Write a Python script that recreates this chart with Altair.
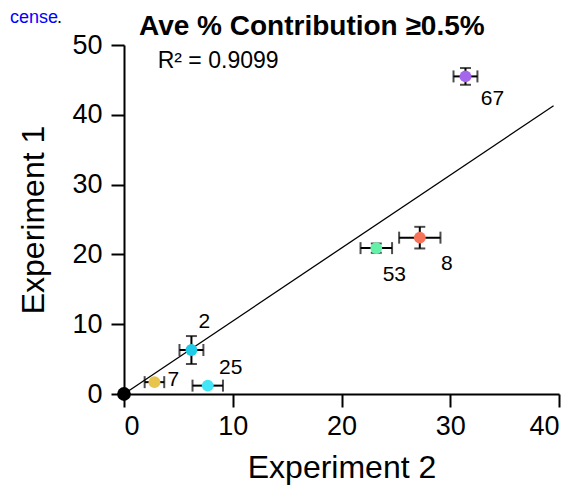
import altair as alt
import pandas as pd

# ---- data ----
ids = ["origin", "2", "7", "25", "53", "8", "67"]
exp2 = [0.0, 6.2, 2.8, 7.7, 23.2, 27.2, 31.4]        # x: Experiment 2
exp1 = [0.0, 6.3, 1.7, 1.2, 20.9, 22.4, 45.5]        # y: Experiment 1
exp2_err = [0.0, 1.1, 0.9, 1.4, 1.45, 1.9, 1.1]
exp1_err = [0.0, 2.0, 0.0, 0.0, 0.65, 1.55, 1.2]
point_labels = ["", "2", "7", "25", "53", "8", "67"]
fit_x = [0.0, 39.5]
fit_y = [0.0, 41.3]
r2_text = "R\u00b2 = 0.9099"
title_text = "Ave % Contribution \u22650.5%"
header_text = "cense"
x_ticks = [0, 10, 20, 30, 40]
y_ticks = [0, 10, 20, 30, 40, 50]

# ---- style ----
colors = ["#000000", "#1fcbe6", "#e8c44c", "#42e6f6", "#64f0a8", "#f6735a", "#a466ea"]
label_offsets = {"2": (13, -28), "7": (19, -2), "25": (23, -18),
                 "53": (18, 27), "8": (27, 26), "67": (27, 23)}
FONT = "Liberation Sans"

df = pd.DataFrame({"id": ids, "x": exp2, "y": exp1, "xe": exp2_err,
                   "ye": exp1_err, "label": point_labels})
df["kind"] = ["origin"] + ["gene"] * (len(ids) - 1)
df["x_lo"] = df["x"] - df["xe"]
df["x_hi"] = df["x"] + df["xe"]
df["y_lo"] = df["y"] - df["ye"]
df["y_hi"] = df["y"] + df["ye"]
fit = pd.DataFrame({"x": fit_x, "y": fit_y})

xs = alt.Scale(domain=[0, 40], nice=False)
ys = alt.Scale(domain=[0, 50], nice=False)
X = alt.X("x:Q", scale=xs, title="Experiment 2",
          axis=alt.Axis(values=x_ticks, titlePadding=13, labelPadding=6))
Y = alt.Y("y:Q", scale=ys, title="Experiment 1",
          axis=alt.Axis(values=y_ticks, titlePadding=21, labelPadding=9))

base = alt.Chart(df)

line = alt.Chart(fit).mark_line(color="black", strokeWidth=1.3).encode(x=X, y=Y)

hbar = base.transform_filter("datum.xe > 0").mark_rule(color="black", strokeWidth=2).encode(
    x=alt.X("x_lo:Q", scale=xs), x2="x_hi:Q", y=alt.Y("y:Q", scale=ys))
hcap = base.transform_filter("datum.xe > 0").transform_fold(
    ["x_lo", "x_hi"], as_=["end", "xv"]).mark_tick(
    orient="vertical", color="black", size=12, thickness=2).encode(
    x=alt.X("xv:Q", scale=xs), y=alt.Y("y:Q", scale=ys))
vbar = base.transform_filter("datum.ye > 0").mark_rule(color="black", strokeWidth=2).encode(
    y=alt.Y("y_lo:Q", scale=ys), y2="y_hi:Q", x=alt.X("x:Q", scale=xs))
vcap = base.transform_filter("datum.ye > 0").transform_fold(
    ["y_lo", "y_hi"], as_=["end", "yv"]).mark_tick(
    orient="horizontal", color="black", size=11, thickness=2).encode(
    y=alt.Y("yv:Q", scale=ys), x=alt.X("x:Q", scale=xs))

points = base.mark_circle(opacity=1).encode(
    x=alt.X("x:Q", scale=xs), y=alt.Y("y:Q", scale=ys),
    color=alt.Color("id:N", scale=alt.Scale(domain=ids, range=colors), legend=None),
    size=alt.Size("kind:N", scale=alt.Scale(domain=["origin", "gene"], range=[190, 140]),
                  legend=None))

texts = []
for lab, (dx, dy) in label_offsets.items():
    texts.append(base.transform_filter(alt.datum.label == lab).mark_text(
        dx=dx, dy=dy, font=FONT, fontSize=21, color="black", align="center",
        baseline="middle").encode(x=alt.X("x:Q", scale=xs), y=alt.Y("y:Q", scale=ys),
                                  text="label:N"))

r2 = alt.Chart(pd.DataFrame({"x": [3.1], "y": [47.7], "t": [r2_text]})).mark_text(
    font=FONT, fontSize=23, align="left", baseline="middle", color="black").encode(
    x=alt.X("x:Q", scale=xs), y=alt.Y("y:Q", scale=ys), text="t:N")

title = alt.Chart(pd.DataFrame({"t": [title_text]})).mark_text(
    font=FONT, fontSize=28, fontWeight="bold", align="left", baseline="alphabetic",
    color="black").encode(x=alt.value(15), y=alt.value(-10), text="t:N")

header = alt.Chart(pd.DataFrame({"t": [header_text]})).mark_text(
    font=FONT, fontSize=18, align="left", baseline="alphabetic", color="#0000ff").encode(
    x=alt.value(-114), y=alt.value(-22), text="t:N")
header_dot = alt.Chart(pd.DataFrame({"t": ["."]})).mark_text(
    font=FONT, fontSize=18, align="left", baseline="alphabetic", color="black").encode(
    x=alt.value(-67), y=alt.value(-22), text="t:N")

chart = alt.layer(line, hbar, hcap, vbar, vcap, points, *texts, r2, title,
                  header, header_dot).properties(
    width=435, height=349,
    autosize=alt.AutoSizeParams(type="none"),
    padding={"left": 116, "top": 37, "right": 10, "bottom": 94},
).configure_view(stroke=None).configure_axis(
    grid=False, domainColor="black", domainWidth=2, tickColor="black", tickWidth=2,
    tickSize=13, labelFont=FONT, labelFontSize=27, labelColor="black",
    titleFont=FONT, titleFontSize=32, titleFontWeight="normal", titleColor="black",
)

chart.save("out.html", embed_options={"renderer": "svg", "actions": False})
